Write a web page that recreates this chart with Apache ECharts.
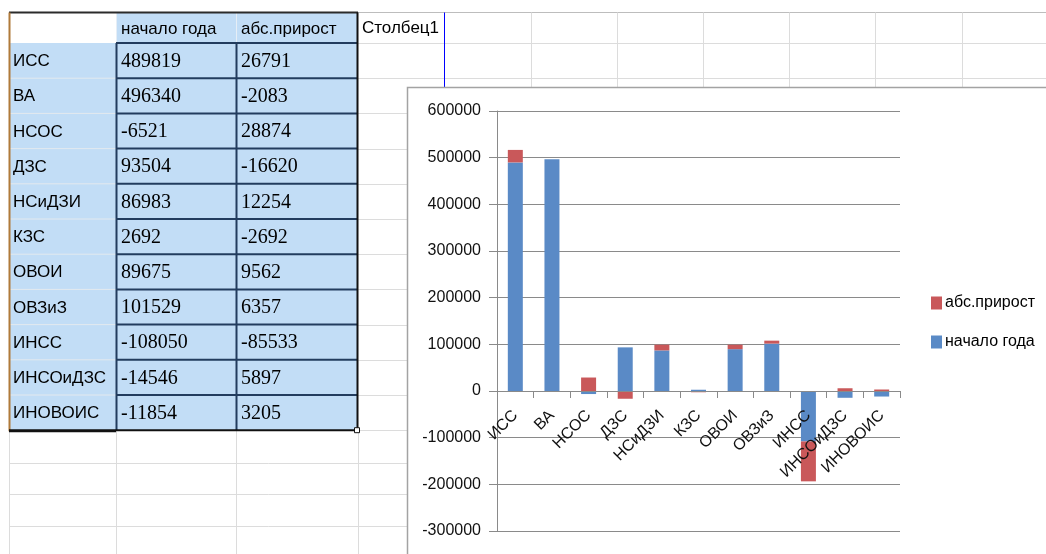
<!DOCTYPE html>
<html><head><meta charset="utf-8">
<script src="https://cdn.jsdelivr.net/npm/echarts@6/dist/echarts.min.js"></script>
<style>html,body{margin:0;padding:0;background:#fff}#c{width:1046px;height:554px}</style>
</head><body><div id="c"></div>
<script>
// ---- data ----
const categories = ['ИСС','ВА','НСОС','ДЗС','НСиДЗИ','КЗС','ОВОИ','ОВЗиЗ','ИНСС','ИНСОиДЗС','ИНОВОИС'];
const startOfYear = [489819, 496340, -6521, 93504, 86983, 2692, 89675, 101529, -108050, -14546, -11854];
const absGrowth = [26791, -2083, 28874, -16620, 12254, -2692, 9562, 6357, -85533, 5897, 3205];
const seriesNames = ['начало года', 'абс.прирост'];
const extraHeader = 'Столбец1';
const yMin = -300000, yMax = 600000, yStep = 100000;

// ---- styling / layout ----
const SANS = '"Liberation Sans", Arial, sans-serif';
const SERIF = '"Liberation Serif", "Times New Roman", serif';
const BLUE = '#5a8ac6', RED = '#c9585a';
const CELL = '#c2ddf6';
const colX = [9, 116, 236, 358];
const headTop = 12.5, headBot = 43, rowH = 35.2;
const rowY = i => headBot + i * rowH;
const tableBot = rowY(categories.length);
const gridTop = 111, gridH = 420;
const zeroOffset = -gridH * (0 - yMin) / (yMax - yMin);

const g = [];
function line(x1, y1, x2, y2, stroke, w, z) {
  g.push({type:'line', silent:true, z:z, shape:{x1,y1,x2,y2}, style:{stroke, lineWidth:w}});
}
function rect(x, y, w, h, fill, stroke, lw, z) {
  g.push({type:'rect', silent:true, z:z, shape:{x,y,width:w,height:h}, style:{fill, stroke: stroke || null, lineWidth: lw || 0}});
}
function text(x, y, s, font, z) {
  g.push({type:'text', silent:true, z:z, x, y, style:{text:s, font, fill:'#000', align:'left', verticalAlign:'middle'}});
}
const LG = '#dcdcdc';
// sheet grid right of table
line(358, 12.5, 1046, 12.5, '#bdbdbd', 1, 1);
for (let i = 0; i <= categories.length; i++) line(358, Math.round(rowY(i)) + 0.5, 1046, Math.round(rowY(i)) + 0.5, LG, 1, 1);
[463.5, 494.5, 526.5].forEach(y => line(9, y, 1046, y, LG, 1, 1));
[531.5, 617.5, 703.5, 789.5, 875.5, 962.5].forEach(x => line(x, 12.5, x, 554, LG, 1, 1));
[9.5, 116.5, 236.5, 358.5].forEach(x => line(x, tableBot, x, 554, LG, 1, 1));
line(444.5, 12.5, 444.5, 87, '#0000ff', 1, 1);
text(362, 28, extraHeader, '17px ' + SANS, 3);
// chart box
rect(407.5, 87.5, 700, 500, '#fff', '#a3a3a3', 1.5, 2);
// table cells
rect(colX[1], headTop, colX[3] - colX[1], headBot - headTop, CELL, null, 0, 3);
rect(colX[0], headBot, colX[3] - colX[0], tableBot - headBot, CELL, null, 0, 3);
line(236.5, headTop, 236.5, headBot, '#e6eef6', 1, 4);
line(116.5, headTop, 116.5, headBot, '#e6eef6', 1, 4);
for (let i = 1; i < categories.length; i++) line(colX[0], rowY(i), colX[1], rowY(i), '#e3e9ef', 1, 4);
for (let i = 0; i < categories.length; i++) line(colX[1], rowY(i), colX[3], rowY(i), '#223c5e', 2, 5);
line(116.5, headBot, 116.5, tableBot, '#223c5e', 2, 5);
line(236.5, headBot, 236.5, tableBot, '#223c5e', 2, 5);
line(colX[0], headTop, colX[3], headTop, '#2b2b2b', 2, 6);
line(colX[0] + 0.5, headTop, colX[0] + 0.5, tableBot + 1, '#b07a3a', 2, 6);
line(357.5, headTop, 357.5, tableBot + 1, '#111', 2, 6);
line(colX[0], tableBot + 0.5, colX[1], tableBot + 0.5, '#111', 3, 6);
line(colX[1], tableBot, colX[3], tableBot, '#111', 2, 6);
rect(354.5, tableBot - 2.5, 5, 5, '#fff', '#111', 1, 7);
// table texts
text(121, 29, seriesNames[0], '17px ' + SANS, 7);
text(241, 29, seriesNames[1], '17px ' + SANS, 7);
categories.forEach((c, i) => {
  const yc = rowY(i) + rowH / 2 + 1;
  text(13, yc, c, '17px ' + SANS, 7);
  text(121, yc, String(startOfYear[i]), '20px ' + SERIF, 7);
  text(241, yc, String(absGrowth[i]), '20px ' + SERIF, 7);
});

const chart = echarts.init(document.getElementById('c'), null, {renderer:'canvas'});
chart.setOption({
  animation: false,
  backgroundColor: '#fff',
  graphic: { elements: g },
  grid: { left: 497, top: gridTop, width: 403, height: gridH, containLabel: false, outerBoundsMode: 'none' },
  legend: {
    orient: 'vertical', left: 926, top: 290, z: 12,
    data: [seriesNames[1], seriesNames[0]],
    itemWidth: 11, itemHeight: 13, itemGap: 23,
    textStyle: { fontFamily: SANS, fontSize: 16, color: '#000', padding: [0,0,0,-2] },
    icon: 'rect'
  },
  xAxis: {
    type: 'category', data: categories, z: 14, position: 'bottom', offset: zeroOffset,
    axisLine: { onZero: false, lineStyle: { color: '#8a8a8a', width: 1 } },
    axisTick: { show: true, length: 7, lineStyle: { color: '#8a8a8a' } },
    axisLabel: { rotate: 45, margin: 22, interval: 0, fontFamily: SANS, fontSize: 16, color: '#111' },
    splitLine: { show: false }
  },
  yAxis: {
    type: 'value', min: yMin, max: yMax, interval: yStep, z: 10,
    axisLine: { show: true, lineStyle: { color: '#8a8a8a' } },
    axisTick: { show: true, length: 8, lineStyle: { color: '#8a8a8a' } },
    axisLabel: { margin: 16, fontFamily: SANS, fontSize: 16, color: '#111', formatter: v => String(v) },
    splitLine: { show: true, lineStyle: { color: '#8a8a8a', width: 1 } }
  },
  series: [
    { name: seriesNames[0], type: 'bar', stack: 'total', data: startOfYear, barWidth: 15, z: 12,
      itemStyle: { color: BLUE } },
    { name: seriesNames[1], type: 'bar', stack: 'total', data: absGrowth, barWidth: 15, z: 12,
      itemStyle: { color: RED } }
  ]
});
</script></body></html>
